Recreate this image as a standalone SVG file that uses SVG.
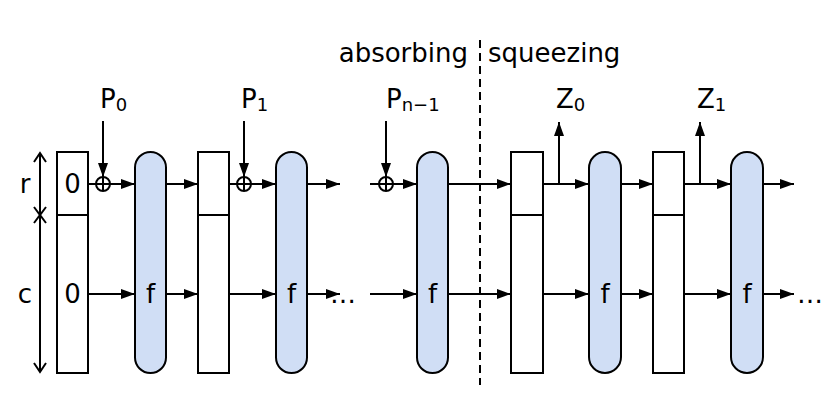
<svg xmlns="http://www.w3.org/2000/svg" width="840" height="407" viewBox="0 0 840 407">
<style>
text{font-family:"DejaVu Sans",sans-serif;font-size:26px;fill:#000}
.sub{font-size:18px}
.st{fill:#fff;stroke:#000;stroke-width:2}
.fn{fill:#d0def5;stroke:#000;stroke-width:2}
.ln{stroke:#000;stroke-width:2;fill:none}
</style>
<defs>
<marker id="ah" viewBox="0 0 14 10" refX="14" refY="5" markerWidth="14" markerHeight="10" markerUnits="userSpaceOnUse" orient="auto"><path d="M0,0L14,5L0,10z" fill="#000"/></marker>
</defs>
<rect width="840" height="407" fill="#fff"/>
<g id="labels">
<text x="468" y="62" text-anchor="end">absorbing</text>
<text x="488" y="62">squeezing</text>
<text x="100" y="108">P<tspan class="sub" dy="3">0</tspan></text>
<text x="241" y="108">P<tspan class="sub" dy="3">1</tspan></text>
<text x="386" y="108">P<tspan class="sub" dy="3">n−1</tspan></text>
<text x="556" y="108">Z<tspan class="sub" dy="3">0</tspan></text>
<text x="697" y="108">Z<tspan class="sub" dy="3">1</tspan></text>
<text x="25" y="193" text-anchor="middle">r</text>
<text x="25" y="303" text-anchor="middle">c</text>
<text x="343" y="303" text-anchor="middle">…</text>
<text x="810" y="303" text-anchor="middle">…</text>
</g>
<g id="axis" class="ln">
<line x1="40" y1="153" x2="40" y2="372"/>
<path d="M34,162L40,153L46,162M34,363L40,372L46,363M34,207L40,215L46,207M34,223L40,215L46,223"/>
</g>
<line x1="480" y1="40" x2="480" y2="385" class="ln" stroke-dasharray="8,5"/>
<g id="state0"><rect class="st" x="57" y="152" width="31" height="221"/><line class="ln" x1="57" y1="215" x2="88" y2="215"/>
<text x="72.5" y="193" text-anchor="middle">0</text><text x="72.5" y="303" text-anchor="middle">0</text></g>
<g id="state1"><rect class="st" x="198" y="152" width="31" height="221"/><line class="ln" x1="198" y1="215" x2="229" y2="215"/></g>
<g id="state2"><rect class="st" x="511" y="152" width="32" height="221"/><line class="ln" x1="511" y1="215" x2="543" y2="215"/></g>
<g id="state3"><rect class="st" x="653" y="152" width="31" height="221"/><line class="ln" x1="653" y1="215" x2="684" y2="215"/></g>
<g id="f1"><rect class="fn" x="135" y="152" width="31" height="221" rx="15.5"/><text x="150.5" y="303" text-anchor="middle">f</text></g>
<g id="f2"><rect class="fn" x="276" y="152" width="31" height="221" rx="15.5"/><text x="291.5" y="303" text-anchor="middle">f</text></g>
<g id="f3"><rect class="fn" x="417" y="152" width="31" height="221" rx="15.5"/><text x="432.5" y="303" text-anchor="middle">f</text></g>
<g id="f4"><rect class="fn" x="589" y="152" width="32" height="221" rx="16"/><text x="605" y="303" text-anchor="middle">f</text></g>
<g id="f5"><rect class="fn" x="731" y="152" width="32" height="221" rx="16"/><text x="747" y="303" text-anchor="middle">f</text></g>
<g id="xors" class="ln">
<circle cx="103" cy="184" r="7"/><path d="M96,184H110M103,177V191"/>
<circle cx="244" cy="184" r="7"/><path d="M237,184H251M244,177V191"/>
<circle cx="386" cy="184" r="7"/><path d="M379,184H393M386,177V191"/>
</g>
<g id="connectors" class="ln">
<line x1="88" y1="184" x2="96" y2="184"/>
<line x1="110" y1="184" x2="135" y2="184" marker-end="url(#ah)"/>
<line x1="166" y1="184" x2="198" y2="184" marker-end="url(#ah)"/>
<line x1="229" y1="184" x2="237" y2="184"/>
<line x1="251" y1="184" x2="276" y2="184" marker-end="url(#ah)"/>
<line x1="307" y1="184" x2="340" y2="184" marker-end="url(#ah)"/>
<line x1="370" y1="184" x2="379" y2="184"/>
<line x1="393" y1="184" x2="417" y2="184" marker-end="url(#ah)"/>
<line x1="448" y1="184" x2="511" y2="184" marker-end="url(#ah)"/>
<line x1="543" y1="184" x2="589" y2="184" marker-end="url(#ah)"/>
<line x1="621" y1="184" x2="653" y2="184" marker-end="url(#ah)"/>
<line x1="684" y1="184" x2="731" y2="184" marker-end="url(#ah)"/>
<line x1="763" y1="184" x2="794" y2="184" marker-end="url(#ah)"/>
<line x1="88" y1="294" x2="135" y2="294" marker-end="url(#ah)"/>
<line x1="166" y1="294" x2="198" y2="294" marker-end="url(#ah)"/>
<line x1="229" y1="294" x2="276" y2="294" marker-end="url(#ah)"/>
<line x1="307" y1="294" x2="340" y2="294" marker-end="url(#ah)"/>
<line x1="370" y1="294" x2="417" y2="294" marker-end="url(#ah)"/>
<line x1="448" y1="294" x2="511" y2="294" marker-end="url(#ah)"/>
<line x1="543" y1="294" x2="589" y2="294" marker-end="url(#ah)"/>
<line x1="621" y1="294" x2="653" y2="294" marker-end="url(#ah)"/>
<line x1="684" y1="294" x2="731" y2="294" marker-end="url(#ah)"/>
<line x1="763" y1="294" x2="794" y2="294" marker-end="url(#ah)"/>
<line x1="103" y1="121" x2="103" y2="177" marker-end="url(#ah)"/>
<line x1="244" y1="121" x2="244" y2="177" marker-end="url(#ah)"/>
<line x1="386" y1="121" x2="386" y2="177" marker-end="url(#ah)"/>
<line x1="559" y1="184" x2="559" y2="122" marker-end="url(#ah)"/>
<line x1="700" y1="184" x2="700" y2="122" marker-end="url(#ah)"/>
</g>
</svg>
